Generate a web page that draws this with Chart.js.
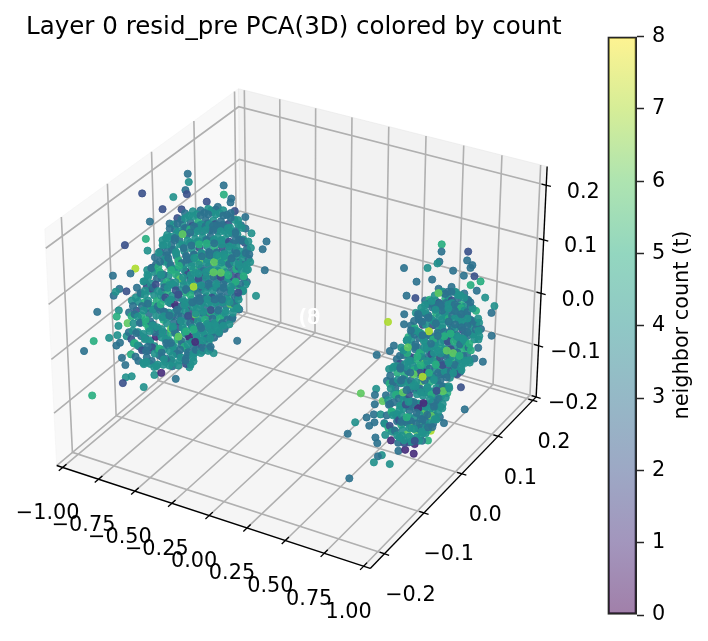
<!DOCTYPE html>
<html>
<head>
<meta charset="utf-8">
<style>
  html, body { margin: 0; padding: 0; background: #fff; }
  #wrap { position: relative; width: 708px; height: 641px; overflow: hidden; }
  #pca-canvas { position: absolute; left: -10px; top: 0; }
  #cbar-canvas { position: absolute; left: 590px; top: 0; }
</style>
<script src="https://cdn.jsdelivr.net/npm/chart.js@4"></script>
</head>
<body>
<div id="wrap">
  <canvas id="pca-canvas" width="609" height="641"></canvas>
  <canvas id="cbar-canvas" width="118" height="641"></canvas>
</div>
<script>
const titleText = "Layer 0 resid_pre PCA(3D) colored by count";
const cbarLabel = "neighbor count (t)";

const xLim = [-1, 1];
const yLim = [-0.226, 0.201];
const zLim = [-0.191, 0.225];
const xTicks = [-1, -0.75, -0.5, -0.25, 0, 0.25, 0.5, 0.75, 1];
const xTickLabels = ["−1.00", "−0.75", "−0.50", "−0.25", "0.00", "0.25", "0.50", "0.75", "1.00"];
const yTicks = [-0.2, -0.1, 0, 0.1, 0.2];
const yTickLabels = ["−0.2", "−0.1", "0.0", "0.1", "0.2"];
const zTicks = [-0.2, -0.1, 0, 0.1, 0.2];
const zTickLabels = ["−0.2", "−0.1", "0.0", "0.1", "0.2"];
const cbarTicks = [0, 1, 2, 3, 4, 5, 6, 7, 8];

// first component, depth cannot be read off the picture
const leftX = -0.75;
const rightX = 0.75;

const leftY = [
  -.015,-.013,.069,.069,.087,-.021,-.018,-.118,-.049,.028,.085,.054,.095,.121,-.074,-.031,.038,.110,.136,.174,.164,-.103,-.113,-.159,-.110,.169,-.138,-.100,-.187,-.149,.123,.146,.113,-.174,-.159,-.187,-.182,-.223,-.177,-.182,-.159,-.179,-.200,-.233,-.182,-.162,-.185,-.177,-.254,-.174,-.167,-.126,-.167,-.154,-.174,-.128,-.241,-.054,-.103,-.087,-.021,.038,.097,.085,.059,
  -.148,-.155,-.150,-.146,-.157,-.152,-.147,-.154,
  -.136,-.129,-.134,-.139,-.128,-.132,-.137,-.130,-.135,-.127,-.138,
  -.112,-.118,-.114,-.109,-.120,-.116,-.111,-.117,-.113,-.121,-.110,-.115,-.119,-.112,
  -.094,-.100,-.096,-.091,-.102,-.098,-.093,-.099,-.095,-.103,-.092,-.097,-.101,-.094,-.090,-.098,
  -.076,-.082,-.078,-.073,-.084,-.080,-.075,-.081,-.077,-.085,-.074,-.079,-.083,-.076,-.072,-.080,-.084,-.077,
  -.059,-.065,-.061,-.056,-.067,-.063,-.058,-.064,-.060,-.068,-.057,-.062,-.066,-.059,-.055,-.063,-.067,-.060,-.056,-.064,-.061,
  -.041,-.047,-.043,-.038,-.049,-.045,-.040,-.046,-.042,-.050,-.039,-.044,-.048,-.041,-.037,-.045,-.049,-.042,-.038,-.046,-.043,
  -.023,-.029,-.025,-.020,-.031,-.027,-.022,-.028,-.024,-.032,-.021,-.026,-.030,-.023,-.019,-.027,-.031,-.024,-.020,-.028,-.025,-.029,
  -.005,-.011,-.007,-.002,-.013,-.009,-.004,-.010,-.006,-.014,-.003,-.008,-.012,-.005,-.001,-.009,-.013,-.006,-.002,-.010,-.007,-.011,
  .013,.007,.011,.016,.005,.009,.014,.008,.012,.004,.015,.010,.006,.013,.017,.009,.005,.012,.016,.008,.011,
  .031,.025,.029,.034,.023,.027,.032,.026,.030,.022,.033,.028,.024,.031,.035,.027,.023,.030,.034,.026,.029,
  .049,.043,.047,.052,.041,.045,.050,.044,.048,.040,.051,.046,.042,.049,.053,.045,.041,.048,.052,
  .067,.061,.065,.070,.059,.063,.068,.062,.066,.058,.069,.064,.060,.067,.071,.063,.059,.066,
  .085,.079,.083,.088,.077,.081,.086,.080,.084,.076,.087,.082,.078,.085,.089,.081,
  .103,.097,.101,.106,.095,.099,.104,.098,.102,.094,.105,.100,.096,.103,
  .121,.115,.119,.124,.113,.117,.122,.116,.120,
  .134,.128,.132,
  -.139,-.146,-.143,-.136,-.148,-.141,-.145,-.138,-.144,
  -.121,-.128,-.119,-.126,-.123,-.130,-.118,-.125,-.122,-.129,-.120,-.127,
  -.103,-.110,-.105,-.100,-.112,-.107,-.102,-.109,-.104,-.099,-.111,-.106,-.101,-.108,-.103,
  -.085,-.092,-.087,-.082,-.094,-.089,-.083,-.091,-.086,-.081,-.093,-.088,-.084,-.090,-.085,-.095,-.082,
  -.068,-.074,-.066,-.072,-.063,-.076,-.069,-.064,-.073,-.067,-.077,-.065,-.071,-.062,-.075,-.070,-.066,-.074,-.068,
  -.050,-.057,-.048,-.055,-.046,-.059,-.052,-.047,-.056,-.049,-.060,-.051,-.054,-.045,-.058,-.053,-.048,-.056,-.050,-.059,-.047,
  -.032,-.039,-.030,-.037,-.028,-.041,-.034,-.029,-.038,-.031,-.042,-.033,-.036,-.027,-.040,-.035,-.030,-.038,-.032,-.041,-.029,
  -.014,-.021,-.012,-.019,-.010,-.023,-.016,-.011,-.020,-.013,-.024,-.015,-.018,-.009,-.022,-.017,-.012,-.020,-.014,-.023,-.011,-.018,
  .004,-.003,.006,-.001,.008,-.005,.002,.007,-.002,.005,-.006,.003,.000,.009,-.004,.001,.006,-.002,.004,-.005,.007,
  .022,.015,.024,.017,.026,.013,.020,.025,.016,.023,.012,.021,.018,.027,.014,.019,.024,.016,.022,.013,.025,
  .040,.033,.042,.035,.044,.031,.038,.043,.034,.041,.030,.039,.036,.045,.032,.037,.042,.034,.040,.031,
  .058,.051,.060,.053,.062,.049,.056,.061,.052,.059,.048,.057,.054,.063,.050,.055,.060,.052,
  .076,.069,.078,.071,.080,.067,.074,.079,.070,.077,.066,.075,.072,.081,.068,.073,.078,
  .094,.087,.096,.089,.098,.085,.092,.097,.088,.095,.084,.093,.090,.099,.086,
  .112,.105,.114,.107,.116,.103,.110,.115,.106,.113,.102,
  .128,.121,.130,.123,.126,
  -.112,-.118,-.113,-.119,-.111,-.116,-.120,
  -.076,-.083,-.081,-.075,-.084,-.078,-.082,-.074,-.080,
  -.041,-.048,-.046,-.040,-.049,-.043,-.047,-.039,-.045,-.042,
  -.005,-.012,-.010,-.004,-.013,-.007,-.011,-.003,-.009,-.006,-.012,
  .031,.024,.026,.032,.023,.029,.025,.033,.027,.030,
  .067,.060,.062,.068,.059,.065,.061,.069,.063,
  .103,.096,.098,.104,.095,.101,.097,
  -.059,-.066,-.064,-.058,-.067,-.061,-.065,-.057,-.063,-.060,
  -.023,-.030,-.028,-.022,-.031,-.025,-.029,-.021,-.027,-.024,-.030,
  .013,.006,.008,.014,.005,.011,.007,.015,.009,.012,
  .049,.042,.044,.050,.041,.047,.043,.051,.045,
  .085,.078,.080,.086,.077,.083,.079,.087
];
const leftZ = [
  .223,.207,.153,.136,.118,.197,.188,.248,.201,.147,.112,.122,.090,.063,.194,.168,.125,.054,.023,-.016,-.025,.189,.164,.181,.141,-.069,.126,.104,.144,.124,-.063,-.105,-.075,.112,.098,.108,.112,.102,.075,.067,.040,.048,.040,.056,.033,.018,.016,.016,.052,-.014,-.032,-.058,-.055,-.062,-.061,-.100,-.038,-.135,-.094,-.101,-.135,-.147,-.162,-.111,-.104,
  .074,.057,.047,.031,.022,.006,-.005,-.021,
  .090,.073,.063,.050,.034,.023,.009,-.003,-.019,-.029,-.044,
  .107,.090,.080,.067,.053,.040,.026,.015,.001,-.012,-.024,-.040,-.050,-.067,
  .119,.102,.093,.078,.066,.052,.038,.027,.012,.001,-.015,-.026,-.041,-.053,-.066,-.081,
  .139,.122,.113,.098,.086,.072,.058,.047,.032,.020,.005,-.006,-.021,-.033,-.046,-.061,-.073,-.087,
  .159,.142,.133,.118,.106,.092,.078,.067,.052,.040,.025,.014,-.001,-.013,-.026,-.041,-.053,-.067,-.079,-.092,-.106,
  .158,.141,.132,.117,.105,.091,.077,.066,.051,.039,.024,.013,-.002,-.014,-.027,-.042,-.054,-.068,-.080,-.093,-.107,
  .156,.139,.130,.115,.103,.089,.075,.064,.049,.037,.022,.011,-.004,-.016,-.029,-.044,-.056,-.070,-.082,-.095,-.109,-.123,
  .149,.132,.123,.108,.096,.082,.068,.057,.042,.030,.015,.004,-.011,-.023,-.036,-.051,-.063,-.077,-.089,-.102,-.116,-.130,
  .140,.123,.114,.099,.087,.073,.059,.048,.033,.021,.006,-.005,-.020,-.032,-.045,-.060,-.072,-.086,-.098,-.111,-.125,
  .132,.115,.106,.091,.079,.065,.051,.040,.025,.013,-.002,-.013,-.028,-.040,-.053,-.068,-.080,-.094,-.106,-.119,-.133,
  .120,.103,.094,.079,.067,.053,.039,.028,.013,.001,-.014,-.025,-.040,-.052,-.065,-.080,-.092,-.106,-.118,
  .108,.091,.082,.067,.055,.041,.027,.016,.001,-.011,-.026,-.037,-.052,-.064,-.077,-.092,-.104,-.118,
  .092,.075,.066,.051,.039,.025,.011,.000,-.015,-.027,-.042,-.053,-.068,-.080,-.093,-.108,
  .068,.051,.042,.027,.015,.001,-.013,-.024,-.039,-.051,-.066,-.077,-.092,-.104,
  .041,.024,.015,.000,-.012,-.026,-.040,-.051,-.066,
  -.004,-.021,-.030,
  .074,.063,.046,.037,.019,.010,-.006,-.015,-.032,
  .092,.075,.066,.050,.040,.022,.012,-.002,-.014,-.030,-.038,-.055,
  .105,.094,.078,.068,.051,.039,.028,.011,.000,-.016,-.026,-.040,-.055,-.064,-.079,
  .122,.105,.097,.080,.069,.054,.042,.027,.017,.000,-.011,-.026,-.036,-.053,-.064,-.080,-.089,
  .138,.128,.112,.101,.086,.076,.058,.049,.032,.020,.008,-.009,-.018,-.034,-.046,-.060,-.074,-.083,-.100,
  .152,.134,.126,.109,.099,.083,.071,.058,.046,.030,.019,.004,-.009,-.020,-.036,-.047,-.064,-.072,-.089,-.100,-.114,
  .150,.133,.124,.108,.098,.081,.071,.056,.044,.029,.019,.002,-.008,-.023,-.035,-.049,-.064,-.073,-.088,-.102,-.113,
  .146,.128,.120,.104,.093,.078,.066,.051,.041,.025,.014,.000,-.012,-.027,-.037,-.053,-.065,-.077,-.091,-.104,-.116,-.132,
  .138,.120,.112,.096,.085,.069,.058,.043,.033,.017,.006,-.009,-.020,-.035,-.045,-.061,-.073,-.085,-.100,-.112,-.126,
  .130,.112,.104,.088,.077,.061,.050,.035,.025,.009,-.002,-.017,-.028,-.043,-.053,-.069,-.081,-.093,-.108,-.120,-.134,
  .120,.102,.094,.078,.067,.051,.040,.025,.015,-.001,-.012,-.027,-.038,-.053,-.063,-.079,-.091,-.103,-.118,-.130,
  .108,.090,.082,.066,.055,.039,.028,.013,.003,-.013,-.024,-.039,-.050,-.065,-.075,-.091,-.103,-.115,
  .094,.076,.068,.052,.041,.025,.014,-.001,-.011,-.027,-.038,-.053,-.064,-.079,-.089,-.105,-.117,
  .074,.056,.048,.032,.021,.005,-.006,-.021,-.031,-.047,-.058,-.073,-.084,-.099,-.109,
  .048,.030,.022,.006,-.005,-.021,-.032,-.047,-.057,-.073,-.084,
  .012,-.006,-.014,-.030,-.041,
  .098,.073,.046,.020,-.006,-.032,-.058,
  .130,.104,.079,.052,.026,.000,-.027,-.053,-.080,
  .148,.122,.096,.070,.045,.018,-.008,-.034,-.060,-.087,
  .140,.114,.089,.062,.036,.010,-.017,-.043,-.070,-.096,-.122,
  .122,.097,.071,.045,.019,-.007,-.034,-.060,-.087,-.113,
  .098,.073,.047,.021,-.005,-.031,-.058,-.085,-.110,
  .060,.034,.008,-.018,-.045,-.070,-.098,
  .150,.125,.099,.073,.046,.020,-.007,-.033,-.060,-.086,
  .147,.122,.095,.070,.043,.017,-.010,-.036,-.062,-.089,-.116,
  .131,.106,.080,.054,.027,.001,-.026,-.052,-.079,-.105,
  .111,.086,.060,.034,.007,-.019,-.046,-.072,-.099,
  .083,.058,.032,.006,-.021,-.047,-.074,-.100
];
const leftCount = [
  3,4,3,5,3,3,2,2,4,2,3,3,2,3,2,2,5,3,4,3,3,3,5,2,4,3,7,1,3,3,3,4,4,3,2,3,4,3,4,5,6,4,4,5,4,4,3,3,3,3,3,4,4,4,2,4,5,3,4,1,4,4,3,3,4,
  4,3,5,4,3,2,4,5,
  3,4,4,2,5,3,4,3,2,4,3,
  4,3,2,4,5,3,3,4,5,3,4,2,3,4,
  3,4,4,3,2,4,5,3,4,3,3,1,4,5,3,4,
  4,2,3,4,5,3,4,3,4,2,3,5,4,3,4,4,3,4,
  3,4,4,3,3,4,2,4,3,5,4,3,4,2,3,5,4,3,4,1,3,
  2,3,4,3,4,3,5,4,2,3,4,3,4,4,3,2,4,6,3,3,4,
  3,4,3,2,4,4,3,4,1,3,4,5,3,3,2,4,4,3,4,4,3,2,
  4,3,2,4,3,4,3,4,5,2,4,3,4,3,4,1,3,4,4,3,4,4,
  3,5,4,3,4,2,3,6,3,4,3,4,2,4,3,4,5,3,4,2,3,
  4,3,3,2,4,4,3,4,3,1,3,4,5,3,4,2,4,3,4,4,3,
  3,4,2,3,4,5,3,3,4,6,3,2,4,4,3,4,3,4,3,
  4,3,3,4,4,2,3,4,5,1,3,4,3,4,3,4,2,3,
  3,2,4,3,3,4,4,2,3,4,4,3,5,3,4,4,
  4,3,4,2,3,4,3,4,2,3,5,3,4,3,
  3,4,2,3,4,3,4,3,4,
  4,3,4,
  4,3,3,4,4,3,5,4,3,
  4,3,4,3,4,3,5,4,4,2,3,4,
  3,4,4,3,4,5,4,3,4,3,4,2,4,3,4,
  4,3,5,4,2,4,4,3,3,4,4,3,4,5,3,4,4,
  4,3,3,4,4,3,5,4,2,4,3,4,4,6,4,3,4,3,4,
  4,4,3,3,4,3,4,5,4,2,4,1,4,3,4,3,5,4,3,4,4,
  3,4,3,4,4,5,3,4,6,4,3,4,3,4,2,4,4,3,5,4,3,
  4,3,5,4,4,3,3,4,2,4,3,5,4,4,3,3,4,1,4,3,4,4,
  4,3,3,4,4,3,5,4,4,2,4,3,3,4,6,4,3,4,4,3,4,
  3,4,3,4,3,4,5,4,3,4,2,4,3,4,3,5,4,4,3,3,4,
  4,4,3,3,4,3,4,6,4,3,3,4,2,4,5,3,4,4,3,3,
  4,3,3,4,4,3,5,4,4,2,4,3,3,4,4,5,3,4,
  3,3,4,4,2,4,5,3,4,4,3,3,4,6,4,3,4,
  4,4,3,3,4,3,4,5,2,4,4,3,3,4,3,
  4,3,3,4,4,3,4,5,3,4,4,
  4,3,3,4,4,
  4,4,3,5,4,3,4,
  4,3,4,3,5,4,4,3,4,
  3,3,4,5,4,2,3,4,6,3,
  4,3,3,4,4,7,3,4,5,1,4,
  3,4,5,3,4,3,4,2,4,4,
  3,4,4,4,6,3,3,4,4,
  4,3,3,4,5,2,4,
  3,4,3,5,4,4,3,4,3,4,
  4,6,3,3,4,3,4,2,5,4,3,
  3,4,5,3,4,4,3,4,3,4,
  4,3,3,4,6,4,3,3,4,
  3,4,4,3,5,4,4,4
];

const rightY = [
  .051,.051,.124,.122,.137,.046,.041,.132,-.046,.015,.084,.114,.144,.162,.028,-.013,.134,.152,.177,.205,.197,.200,-.038,-.015,-.043,-.084,-.043,-.035,-.068,-.078,-.111,.162,.162,.177,.139,.152,.116,-.149,-.111,-.114,-.114,-.094,-.134,-.162,-.116,-.099,-.114,-.127,-.180,-.089,-.086,-.071,-.111,-.106,-.094,-.104,-.114,-.073,-.175,-.051,-.033,-.010,-.023,.028,.071,.129,.035,
  -.079,-.084,-.077,-.086,-.080,-.075,-.083,-.088,-.078,
  -.060,-.066,-.058,-.068,-.062,-.057,-.065,-.070,-.061,-.056,-.064,
  -.049,-.042,-.051,-.044,-.039,-.048,-.053,-.043,-.047,-.040,-.050,-.045,-.041,-.052,
  -.025,-.031,-.023,-.034,-.027,-.021,-.030,-.035,-.026,-.022,-.032,-.029,-.024,-.033,-.020,-.028,-.036,
  -.013,-.006,-.015,-.008,-.003,-.012,-.017,-.007,-.011,-.004,-.014,-.009,-.005,-.016,-.002,-.010,-.018,-.006,-.012,-.008,
  .011,.004,.013,.006,.001,.010,.015,.005,.009,.002,.012,.007,.003,.014,.000,.008,.016,.004,.010,.006,.012,
  .022,.029,.020,.027,.032,.023,.018,.028,.024,.031,.021,.026,.030,.019,.033,.025,.017,.029,.023,.027,
  .046,.039,.048,.041,.036,.045,.050,.040,.044,.037,.047,.042,.038,.049,.035,.043,.051,.039,.045,.041,
  .058,.065,.056,.063,.068,.059,.054,.064,.060,.067,.057,.062,.066,.055,.069,.061,.053,.065,.059,
  .081,.074,.083,.076,.071,.080,.085,.075,.079,.072,.082,.077,.073,.084,.070,.078,
  .093,.100,.091,.098,.103,.094,.089,.099,.095,.102,.092,.097,.101,
  .117,.110,.119,.112,.107,.116,.121,.111,.115,.108,.118,.113,
  .129,.136,.127,.134,.139,.130,.125,.135,.131,.138,
  .152,.145,.154,.147,.150,
  .162,.168,.164,
  -.070,-.076,-.068,-.074,-.066,-.078,-.071,-.067,-.075,-.069,
  -.052,-.058,-.050,-.056,-.048,-.060,-.053,-.049,-.057,-.051,-.061,-.055,
  -.035,-.041,-.033,-.039,-.031,-.043,-.036,-.032,-.040,-.034,-.044,-.038,-.030,-.042,-.037,
  -.017,-.023,-.015,-.021,-.013,-.025,-.018,-.014,-.022,-.016,-.026,-.020,-.012,-.024,-.019,-.015,-.023,-.017,
  .001,-.005,.003,-.003,.005,-.007,.000,.004,-.004,.002,-.008,-.002,.006,-.006,-.001,.003,-.005,.001,-.003,.004,
  .018,.012,.020,.014,.022,.010,.017,.021,.013,.019,.009,.015,.023,.011,.016,.020,.012,.018,.014,.021,
  .036,.030,.038,.032,.040,.028,.035,.039,.031,.037,.027,.033,.041,.029,.034,.038,.030,.036,.032,.039,
  .054,.048,.056,.050,.058,.046,.053,.057,.049,.055,.045,.051,.059,.047,.052,.056,.048,.054,.050,
  .072,.066,.074,.068,.076,.064,.071,.075,.067,.073,.063,.069,.077,.065,.070,.074,.066,
  .089,.083,.091,.085,.093,.081,.088,.092,.084,.090,.080,.086,.094,.082,
  .107,.101,.109,.103,.111,.099,.106,.110,.102,.108,.098,.104,
  .125,.119,.127,.121,.129,.117,.124,.128,.120,.126,.116,
  .142,.136,.144,.138,.146,.134,.141,
  .159,.153,.161,
  -.043,-.050,-.048,-.042,-.051,-.045,-.049,
  -.007,-.014,-.012,-.006,-.015,-.009,-.013,-.005,-.011,-.008,
  .028,.021,.023,.029,.020,.026,.022,.030,.024,.027,
  .064,.057,.059,.065,.056,.062,.058,.066,.060,
  .099,.092,.094,.100,.091,.097,.093,
  .135,.128,.130,.136,.127,
  -.025,-.032,-.030,-.024,-.033,-.027,-.031,-.023,
  .011,.004,.006,.012,.003,.009,.005,.013,.007,.010,
  .046,.039,.041,.047,.038,.044,.040,.048,.042,.045,
  .081,.074,.076,.082,.073,.079,.075,.083,
  .117,.110,.112,.118,.109,.115
];
const rightZ = [
  .167,.154,.109,.094,.076,.139,.139,.074,.185,.147,.099,.071,.051,.030,.118,.140,.041,.019,-.010,-.044,-.052,-.098,.131,.112,.101,.114,.083,.048,.061,.058,.073,-.080,-.096,-.133,-.109,-.110,-.141,.030,.012,.003,-.014,-.022,-.024,-.013,-.031,-.043,-.047,-.044,-.021,-.066,-.090,-.111,-.077,-.091,-.122,-.117,-.121,-.154,-.106,-.145,-.156,-.180,-.149,-.182,-.179,-.193,-.168,
  .026,.008,-.002,-.017,-.030,-.041,-.056,-.068,-.083,
  .031,.022,.005,-.006,-.020,-.034,-.044,-.059,-.070,-.086,-.097,
  .045,.027,.017,.004,-.011,-.021,-.037,-.048,-.063,-.074,-.090,-.100,-.113,-.129,
  .069,.052,.043,.028,.014,.003,-.011,-.025,-.036,-.050,-.063,-.076,-.088,-.103,-.115,-.130,-.141,
  .084,.074,.058,.047,.032,.021,.005,-.006,-.020,-.034,-.045,-.060,-.071,-.086,-.098,-.112,-.124,-.138,-.151,-.163,
  .091,.074,.065,.050,.038,.023,.011,-.002,-.015,-.029,-.040,-.055,-.066,-.081,-.092,-.107,-.119,-.133,-.144,-.159,-.171,
  .085,.073,.058,.048,.032,.020,.006,-.006,-.020,-.032,-.046,-.058,-.072,-.084,-.098,-.111,-.123,-.136,-.150,-.161,
  .090,.072,.063,.049,.036,.022,.009,-.004,-.016,-.030,-.043,-.057,-.068,-.083,-.094,-.108,-.121,-.133,-.147,-.159,
  .077,.060,.050,.036,.023,.009,-.003,-.017,-.029,-.043,-.056,-.069,-.081,-.095,-.108,-.120,-.134,-.146,-.159,
  .071,.054,.045,.030,.018,.003,-.009,-.022,-.035,-.048,-.062,-.074,-.087,-.101,-.113,-.126,
  .054,.037,.027,.013,.000,-.014,-.026,-.040,-.052,-.066,-.079,-.091,-.104,
  .036,.019,.010,-.005,-.017,-.032,-.044,-.057,-.070,-.083,-.096,-.109,
  .016,-.001,-.011,-.025,-.038,-.052,-.064,-.078,-.090,-.104,
  -.019,-.036,-.045,-.060,-.072,
  -.048,-.064,-.075,
  .022,.012,-.004,-.013,-.030,-.040,-.057,-.067,-.081,-.096,
  .032,.017,.007,-.009,-.020,-.034,-.046,-.062,-.072,-.087,-.100,-.113,
  .049,.034,.024,.008,-.003,-.017,-.029,-.045,-.055,-.070,-.083,-.096,-.107,-.123,-.135,
  .072,.055,.046,.030,.018,.005,-.009,-.020,-.034,-.048,-.058,-.074,-.085,-.100,-.112,-.127,-.138,-.152,
  .084,.067,.058,.042,.030,.017,.003,-.008,-.022,-.036,-.046,-.062,-.073,-.088,-.100,-.115,-.126,-.140,-.154,-.165,
  .080,.070,.054,.045,.027,.018,.000,-.005,-.026,-.033,-.050,-.059,-.077,-.085,-.104,-.112,-.130,-.137,-.158,-.163,
  .084,.066,.059,.041,.031,.015,.004,-.010,-.021,-.037,-.045,-.063,-.072,-.089,-.098,-.116,-.124,-.141,-.152,-.164,
  .078,.061,.053,.036,.026,.009,-.001,-.016,-.026,-.043,-.050,-.069,-.077,-.095,-.103,-.122,-.129,-.147,-.157,
  .068,.051,.043,.026,.016,-.001,-.011,-.026,-.036,-.053,-.060,-.079,-.087,-.105,-.113,-.132,-.139,
  .057,.040,.032,.015,.005,-.012,-.022,-.037,-.047,-.064,-.071,-.090,-.098,-.116,
  .039,.022,.014,-.003,-.013,-.030,-.040,-.055,-.065,-.082,-.089,-.108,
  .020,.003,-.005,-.022,-.032,-.049,-.059,-.074,-.084,-.101,-.108,
  -.008,-.025,-.033,-.050,-.060,-.077,-.087,
  -.038,-.055,-.063,
  .036,.010,-.016,-.042,-.069,-.095,-.121,
  .078,.053,.026,.000,-.027,-.053,-.080,-.106,-.132,-.157,
  .079,.053,.027,.000,-.026,-.052,-.078,-.105,-.130,-.156,
  .069,.043,.016,-.010,-.036,-.062,-.088,-.114,-.140,
  .045,.020,-.007,-.033,-.059,-.085,-.098,
  .008,-.018,-.045,-.071,-.097,
  .060,.034,.008,-.018,-.044,-.070,-.096,-.122,
  .083,.057,.031,.005,-.022,-.048,-.074,-.100,-.126,-.152,
  .082,.056,.030,.003,-.023,-.049,-.075,-.101,-.127,-.153,
  .062,.036,.010,-.016,-.042,-.068,-.094,-.120,
  .028,.002,-.024,-.050,-.076,-.102
];
const rightCount = [
  5,3,2,3,3,3,4,3,3,4,3,3,2,5,3,3,5,3,4,4,3,3,3,2,3,7,3,4,3,3,3,4,3,3,4,3,2,6,4,3,3,6,3,4,3,4,3,3,3,3,4,1,3,3,4,3,4,4,3,3,1,1,2,5,3,3,7,
  4,3,5,3,4,2,3,4,5,
  3,4,5,2,3,4,3,5,4,3,5,
  4,3,2,4,5,3,4,3,4,4,3,5,4,3,
  3,5,4,3,2,4,3,4,5,3,1,4,3,5,4,6,2,
  4,3,5,4,3,4,2,5,3,4,5,3,4,3,5,4,3,6,4,1,
  3,4,3,2,5,4,3,4,1,3,4,6,3,5,4,3,4,5,3,5,3,
  5,4,3,4,2,3,5,4,3,4,1,3,5,4,3,4,6,3,4,5,
  3,4,2,5,4,3,5,3,4,3,6,4,3,5,4,3,4,5,2,3,
  4,5,3,4,3,4,1,3,5,4,3,5,4,3,4,5,3,4,3,
  3,4,2,3,5,4,3,4,3,5,4,2,3,4,3,5,
  4,3,5,4,3,4,3,2,4,3,5,3,4,
  3,5,4,3,4,2,3,4,5,3,4,3,
  4,3,3,5,4,3,4,2,3,4,
  5,4,3,3,4,
  4,3,4,
  4,3,3,4,4,3,5,4,2,4,
  3,4,3,4,4,5,3,4,4,2,3,4,
  4,3,5,4,4,3,4,3,4,2,4,3,3,4,4,
  3,4,3,4,3,4,4,5,3,4,2,4,3,4,3,6,4,4,
  4,3,3,4,4,3,5,4,4,2,4,3,3,4,1,4,3,3,4,4,
  3,4,3,4,5,4,3,4,6,4,3,3,4,4,2,4,3,3,4,4,
  4,3,3,4,4,3,5,4,2,4,3,3,4,4,5,3,4,6,4,3,
  4,3,3,4,4,3,5,4,4,2,4,3,3,4,4,3,3,4,4,
  3,3,4,4,5,3,4,2,4,3,3,4,4,3,3,4,4,
  4,4,3,3,4,3,4,5,2,4,4,3,3,4,
  4,3,5,4,4,3,4,3,3,4,4,2,
  3,4,3,4,3,4,4,5,3,4,4,
  4,3,3,4,4,3,5,
  4,3,4,
  4,3,3,6,4,3,4,
  3,4,3,5,6,4,3,3,4,2,
  4,3,7,3,4,5,4,4,3,3,
  3,3,4,5,4,2,3,6,4,
  4,3,3,4,6,3,4,
  3,4,3,5,4,
  3,6,4,3,3,4,5,4,
  4,3,3,4,5,7,4,1,3,4,
  6,4,3,3,4,5,4,2,3,4,
  3,4,3,5,6,4,3,4,
  4,3,3,4,5,4
];

const viridis = ["#440154", "#472d7b", "#3b528b", "#2c728e", "#21918c", "#28ae80", "#5ec962", "#addc30", "#fde725"];

const elevDeg = 30;
const azimDeg = -60;
const viewDist = 10;
const boxAspect = [1.1905, 1.1905, 0.8929];
const paneMargin = 1 / 48;
const paneLo = -paneMargin;
const paneHi = 1 + paneMargin;

const elev = elevDeg * Math.PI / 180;
const azim = azimDeg * Math.PI / 180;
const viewW = [Math.cos(elev) * Math.cos(azim), Math.cos(elev) * Math.sin(azim), Math.sin(elev)];
const viewU = [-Math.sin(azim), Math.cos(azim), 0];
const viewV = [
    viewW[1] * viewU[2] - viewW[2] * viewU[1],
    viewW[2] * viewU[0] - viewW[0] * viewU[2],
    viewW[0] * viewU[1] - viewW[1] * viewU[0],
];

function dot(a, b) {
    return a[0] * b[0] + a[1] * b[1] + a[2] * b[2];
}

// normalised box coordinates to the mplot3d projection plane
function projectNorm(nx, ny, nz) {
    const p = [(nx - 0.5) * boxAspect[0], (ny - 0.5) * boxAspect[1], (nz - 0.5) * boxAspect[2]];
    const depth = viewDist - dot(viewW, p);
    return { x: dot(viewU, p) / depth, y: dot(viewV, p) / depth };
}

function normX(v) { return (v - xLim[0]) / (xLim[1] - xLim[0]); }
function normY(v) { return (v - yLim[0]) / (yLim[1] - yLim[0]); }
function normZ(v) { return (v - zLim[0]) / (zLim[1] - zLim[0]); }

function clusterDataset(xValue, ys, zs, counts) {
    const points = ys.map((y, i) => projectNorm(normX(xValue), normY(y), normZ(zs[i])));
    const colors = ys.map((y, i) => viridis[counts[i] ?? 4] + "e6");
    return {
        data: points,
        pointRadius: 3.6,
        pointBorderWidth: 0.9,
        pointBackgroundColor: colors,
        pointBorderColor: colors,
        showLine: false,
    };
}

const axes3dPlugin = {
    id: "axes3d",
    beforeDatasetsDraw(chart) {
        const ctx = chart.ctx;
        const sx = chart.scales.x;
        const sy = chart.scales.y;
        const px = (n) => {
            const p = projectNorm(n[0], n[1], n[2]);
            return [sx.getPixelForValue(p.x), sy.getPixelForValue(p.y)];
        };
        const path = (pts) => {
            ctx.beginPath();
            pts.forEach((n, i) => {
                const q = px(n);
                if (i === 0) ctx.moveTo(q[0], q[1]);
                else ctx.lineTo(q[0], q[1]);
            });
        };
        const lo = paneLo;
        const hi = paneHi;

        ctx.save();
        const panes = [
            { color: "rgba(242,242,242,0.5)", pts: [[lo, lo, lo], [lo, hi, lo], [lo, hi, hi], [lo, lo, hi]] },
            { color: "rgba(230,230,230,0.5)", pts: [[lo, hi, lo], [hi, hi, lo], [hi, hi, hi], [lo, hi, hi]] },
            { color: "rgba(236,236,236,0.5)", pts: [[lo, lo, lo], [hi, lo, lo], [hi, hi, lo], [lo, hi, lo]] },
        ];
        panes.forEach((pane) => {
            path(pane.pts);
            ctx.closePath();
            ctx.fillStyle = pane.color;
            ctx.fill();
            ctx.strokeStyle = pane.color;
            ctx.lineWidth = 1;
            ctx.stroke();
        });

        ctx.strokeStyle = "#b0b0b0";
        ctx.lineWidth = 1.6;
        xTicks.forEach((t) => {
            const n = normX(t);
            path([[n, lo, lo], [n, hi, lo], [n, hi, hi]]);
            ctx.stroke();
        });
        yTicks.forEach((t) => {
            const n = normY(t);
            path([[hi, n, lo], [lo, n, lo], [lo, n, hi]]);
            ctx.stroke();
        });
        zTicks.forEach((t) => {
            const n = normZ(t);
            path([[hi, hi, n], [lo, hi, n], [lo, lo, n]]);
            ctx.stroke();
        });

        ctx.strokeStyle = "#000";
        ctx.lineWidth = 1.4;
        path([[lo, lo, lo], [hi, lo, lo]]);
        ctx.stroke();
        path([[hi, lo, lo], [hi, hi, lo]]);
        ctx.stroke();
        path([[hi, hi, lo], [hi, hi, hi]]);
        ctx.stroke();

        ctx.lineWidth = 1.3;
        ctx.fillStyle = "#000";
        ctx.font = '20.8px "DejaVu Sans"';
        ctx.textAlign = "center";
        ctx.textBaseline = "middle";
        const label = (anchor, dx, dy, text) => {
            const q = px(anchor);
            ctx.fillText(text, q[0] + dx, q[1] + dy);
        };
        xTicks.forEach((t, i) => {
            const n = normX(t);
            path([[n, lo - 0.02, lo], [n, lo + 0.02, lo]]);
            ctx.stroke();
            label([n, lo, lo], -15, 46, xTickLabels[i]);
        });
        yTicks.forEach((t, i) => {
            const n = normY(t);
            path([[hi - 0.015, n, lo], [hi + 0.015, n, lo]]);
            ctx.stroke();
            label([hi, n, lo], 26 - 1.2 * i, 42, yTickLabels[i]);
        });
        zTicks.forEach((t, i) => {
            const n = normZ(t);
            path([[hi - 0.015, hi, n], [hi + 0.015, hi, n]]);
            ctx.stroke();
            label([hi, hi, n], 37, 7, zTickLabels[i]);
        });

        ctx.fillStyle = "#fff";
        label([0.5, 0.5, 0.5], 8, 2, "(8");
        label([0.5, 0.5, 0.5], 9, 2, "(0");
        ctx.restore();
    },
};

new Chart(document.querySelector("#pca-canvas"), {
    type: "scatter",
    data: {
        datasets: [
            clusterDataset(leftX, leftY, leftZ, leftCount),
            clusterDataset(rightX, rightY, rightZ, rightCount),
        ],
    },
    options: {
        responsive: false,
        animation: false,
        devicePixelRatio: 1,
        layout: { padding: { left: 36, right: 37.4, top: 0, bottom: 49.4 } },
        scales: {
            x: { type: "linear", min: -0.095, max: 0.09, display: false },
            y: { type: "linear", min: -0.095, max: 0.09, display: false },
        },
        plugins: {
            legend: { display: false },
            tooltip: { enabled: false },
            title: {
                display: true,
                text: titleText,
                color: "#000",
                font: { family: '"DejaVu Sans"', size: 25, weight: "normal", lineHeight: 1.2 },
                padding: { top: 12, bottom: 14 },
            },
        },
    },
    plugins: [axes3dPlugin],
});

const cbarTitlePlugin = {
    id: "cbarTitle",
    afterDraw(chart) {
        const ctx = chart.ctx;
        ctx.save();
        ctx.translate(92.5, 325);
        ctx.rotate(-Math.PI / 2);
        ctx.fillStyle = "#000";
        ctx.font = '20.8px "DejaVu Sans"';
        ctx.textAlign = "center";
        ctx.textBaseline = "middle";
        ctx.fillText(cbarLabel, 0, 0);
        ctx.restore();
    },
};

function cbarFill(context) {
    const area = context.chart.chartArea;
    if (!area) return "rgba(0,0,0,0)";
    const gradient = context.chart.ctx.createLinearGradient(0, area.bottom, 0, area.top);
    viridis.forEach((color, i) => gradient.addColorStop(i / (viridis.length - 1), color + "80"));
    return gradient;
}

new Chart(document.querySelector("#cbar-canvas"), {
    type: "bar",
    data: {
        labels: [""],
        datasets: [
            {
                data: [[cbarTicks[0], cbarTicks[cbarTicks.length - 1]]],
                backgroundColor: cbarFill,
                borderColor: "#262626",
                borderWidth: 2,
                borderSkipped: false,
                barPercentage: 1,
                categoryPercentage: 1,
            },
        ],
    },
    options: {
        responsive: false,
        animation: false,
        devicePixelRatio: 1,
        layout: { padding: { left: 17.5, top: 36.5, bottom: 26 } },
        scales: {
            x: { display: false },
            y: {
                position: "right",
                min: 0,
                max: 8,
                afterFit(scale) {
                    scale.width = 71;
                },
                border: { display: false },
                grid: { drawOnChartArea: false, tickLength: 7, tickWidth: 1.5, tickColor: "#262626" },
                ticks: {
                    stepSize: 1,
                    color: "#000",
                    padding: 8,
                    font: { family: '"DejaVu Sans"', size: 20.8 },
                },
            },
        },
        plugins: {
            legend: { display: false },
            tooltip: { enabled: false },
        },
    },
    plugins: [cbarTitlePlugin],
});
</script>
</body>
</html>
